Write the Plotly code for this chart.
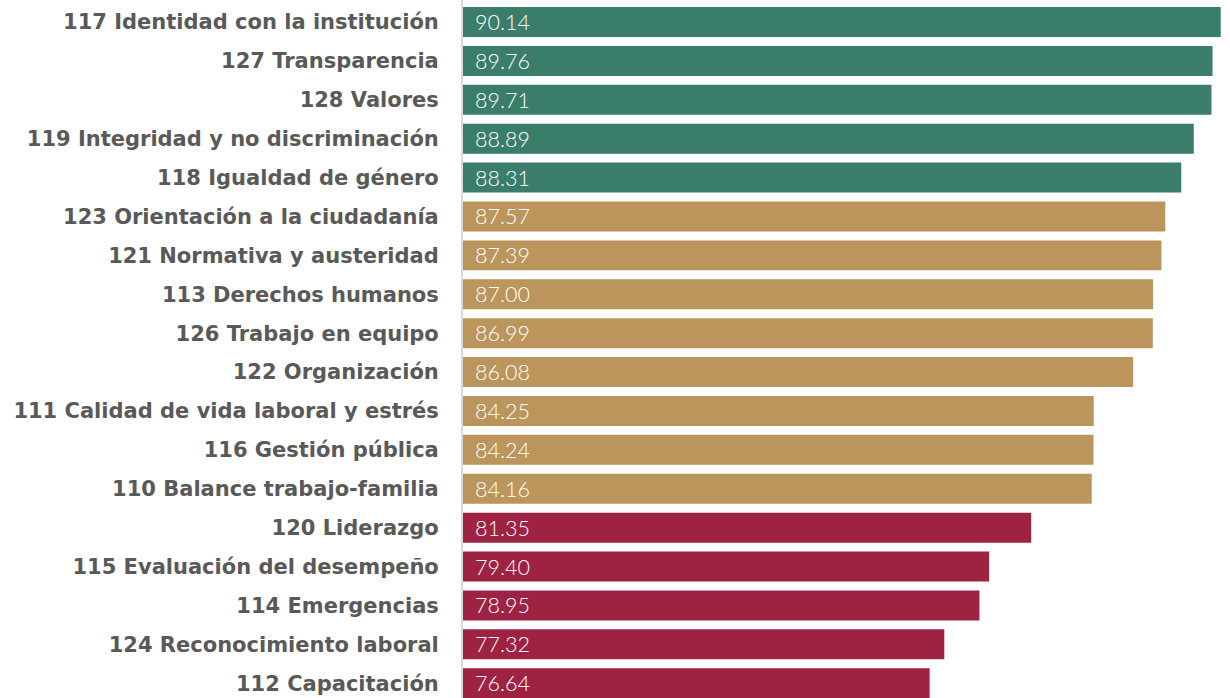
import plotly.graph_objects as go

labels = [
    "117 Identidad con la institución",
    "127 Transparencia",
    "128 Valores",
    "119 Integridad y no discriminación",
    "118 Igualdad de género",
    "123 Orientación a la ciudadanía",
    "121 Normativa y austeridad",
    "113 Derechos humanos",
    "126 Trabajo en equipo",
    "122 Organización",
    "111 Calidad de vida laboral y estrés",
    "116 Gestión pública",
    "110 Balance trabajo-familia",
    "120 Liderazgo",
    "115 Evaluación del desempeño",
    "114 Emergencias",
    "124 Reconocimiento laboral",
    "112 Capacitación",
]
values = [90.14, 89.76, 89.71, 88.89, 88.31, 87.57, 87.39, 87.00, 86.99, 86.08,
          84.25, 84.24, 84.16, 81.35, 79.40, 78.95, 77.32, 76.64]
groups = ["alto"] * 5 + ["medio"] * 8 + ["bajo"] * 5

group_colors = {"alto": "#3A7D6A", "medio": "#BC955C", "bajo": "#9E2242"}
BASE = 55.0
X_MAX = 90.57

colors = [group_colors[g] for g in groups]

fig = go.Figure()
fig.add_trace(go.Bar(
    orientation="h",
    y=labels,
    x=[v - BASE for v in values],
    base=BASE,
    marker=dict(color=colors, line=dict(width=0)),
    hovertemplate="%{y}: %{customdata:.2f}<extra></extra>",
    customdata=values,
))

for lab, v in zip(labels, values):
    fig.add_annotation(
        x=BASE, y=lab, xref="x", yref="y",
        text=f"{v:.2f}", showarrow=False,
        xanchor="left", yanchor="middle", xshift=10, yshift=0,
        font=dict(family="Lato", size=21.5, color="#FFFFFF", weight=300),
    )

n = len(labels)
fig.update_layout(
    width=1230, height=698,
    margin=dict(l=463, r=0, t=0, b=0),
    paper_bgcolor="white", plot_bgcolor="white",
    bargap=0.229,
    showlegend=False,
    font=dict(family="DejaVu Sans"),
    xaxis=dict(visible=False, range=[BASE, X_MAX], showgrid=False, zeroline=False),
    yaxis=dict(
        categoryorder="array", categoryarray=labels,
        range=[n - 1 + 0.38, -0.566],
        showline=True, linecolor="#D9D9D9", linewidth=2,
        ticks="", ticklabelstandoff=18,
        showgrid=False, zeroline=False,
        tickfont=dict(family="DejaVu Sans", size=21, color="#595959", weight=700),
    ),
)

fig.write_html(
    "out.html",
    config={"displayModeBar": False},
    post_script="document.body.style.margin='0';document.body.style.overflow='hidden';",
)
